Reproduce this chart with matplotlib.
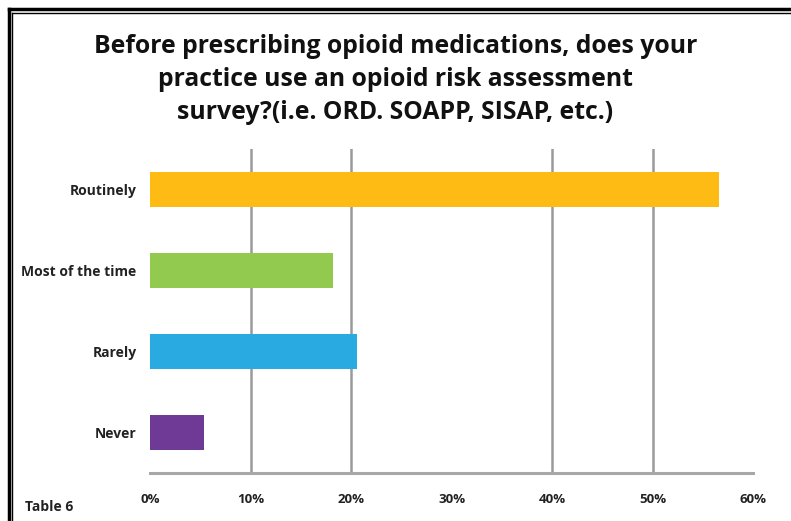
import matplotlib.pyplot as plt
from matplotlib.lines import Line2D

# Survey answers and share of respondents (%)
categories = ['Routinely', 'Most of the time', 'Rarely', 'Never']
percentages = [56.6, 18.2, 20.6, 5.3]
colors = ['#FDBB13', '#92CA50', '#29ABE2', '#6F3996']
tick_values = [0, 10, 20, 30, 40, 50, 60]
tick_labels = ['0%', '10%', '20%', '30%', '40%', '50%', '60%']
grid_values = [10, 20, 40, 50]  # the 30% line is absent in the original

plt.rcParams['font.family'] = ['Open Sans', 'DejaVu Sans']

fig = plt.figure(figsize=(7.91, 5.21), dpi=100)
ax = fig.add_axes([0.19, 0.092, 0.762, 0.622])

y = list(range(len(categories)))
ax.barh(y, percentages, height=0.43, color=colors, zorder=3)
ax.set_ylim(len(categories) - 0.5, -0.5)
ax.set_xlim(0, 60)

for g in grid_values:
    ax.axvline(g, color='#9a9a9a', linewidth=1.8, zorder=1)

for s in ['top', 'right', 'left']:
    ax.spines[s].set_visible(False)
ax.spines['bottom'].set_color('#a8a8a8')
ax.spines['bottom'].set_linewidth(2.2)

ax.set_yticks(y)
ax.set_yticklabels(categories, fontsize=10, fontweight='bold', color='#222222')
ax.set_xticks(tick_values)
ax.set_xticklabels(tick_labels, fontsize=9.5, fontweight='bold', color='#222222')
ax.tick_params(axis='both', length=0)
ax.tick_params(axis='y', pad=10)
ax.tick_params(axis='x', pad=14)

fig.text(0.5, 0.848, 'Before prescribing opioid medications, does your\n'
         'practice use an opioid risk assessment\n'
         'survey?(i.e. ORD. SOAPP, SISAP, etc.)',
         ha='center', va='center', fontsize=17.8, fontweight='bold',
         color='#111111', linespacing=1.42)

fig.text(0.032, 0.02, 'Table 6', fontsize=10, fontweight='bold', color='#222222')

# double frame along the top and left edges
W, H = 791, 521
fig.add_artist(Line2D([8.5 / W, 8.5 / W], [0, 1 - 8.5 / H], color='black',
                      linewidth=2.5, transform=fig.transFigure))
fig.add_artist(Line2D([8.5 / W, 1], [1 - 8.5 / H, 1 - 8.5 / H], color='black',
                      linewidth=2.5, transform=fig.transFigure))
fig.add_artist(Line2D([12.5 / W, 12.5 / W], [0, 1 - 12.5 / H], color='black',
                      linewidth=1.0, transform=fig.transFigure))
fig.add_artist(Line2D([12.5 / W, 1], [1 - 12.5 / H, 1 - 12.5 / H], color='black',
                      linewidth=1.0, transform=fig.transFigure))

fig.savefig('out.png', dpi=100)
